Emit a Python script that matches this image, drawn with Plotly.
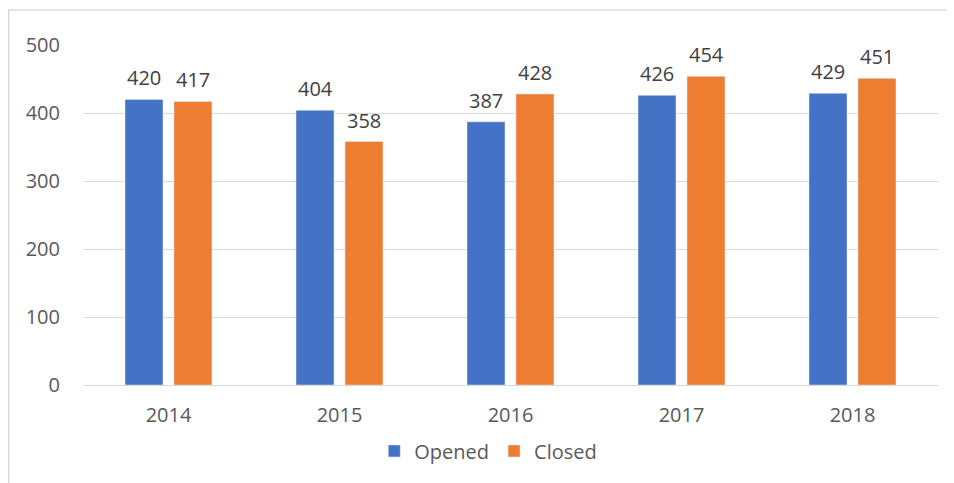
import plotly.graph_objects as go

years = ["2014", "2015", "2016", "2017", "2018"]
opened = [420, 404, 387, 426, 429]
closed = [417, 358, 428, 454, 451]

blue = "#4472C4"
orange = "#ED7D31"
font = "Open Sans"

fig = go.Figure()
fig.add_trace(go.Bar(x=years, y=opened, name="Opened", marker_color=blue))
fig.add_trace(go.Bar(x=years, y=closed, name="Closed", marker_color=orange))

# data labels above each bar (x given as category index)
for vals, shift in [(opened, -24.5), (closed, 24.5)]:
    for i, v in enumerate(vals):
        fig.add_annotation(x=i, y=v, text=str(v), showarrow=False,
                           xshift=shift, yshift=6, yanchor="bottom",
                           font=dict(family=font, size=20, color="#404040"))

# chart border (only top/left visible in the frame)
fig.add_shape(type="rect", xref="paper", yref="paper",
              x0=-0.087, x1=1.03, y0=-0.35, y1=1.103,
              line=dict(color="#D9D9D9", width=1.5), layer="below")

# page body adds 8px offset, so the figure is 8px smaller
fig.update_layout(
    width=946, height=475,
    margin=dict(l=75, r=16, t=37, b=98),
    paper_bgcolor="white", plot_bgcolor="white",
    barmode="group", bargap=0.427, bargroupgap=0.224,
    font=dict(family=font, size=20, color="#595959"),
    showlegend=True,
    legend=dict(orientation="h", x=0.474, xanchor="center", y=-0.194, yanchor="middle",
                font=dict(size=20, color="#595959"), itemwidth=30, traceorder="normal"),
)
fig.update_yaxes(range=[0, 500], dtick=100, showgrid=True, gridcolor="#D9D9D9", gridwidth=1,
                 zeroline=True, zerolinecolor="#D9D9D9", zerolinewidth=1,
                 ticklabelstandoff=22, tickfont=dict(size=20, color="#595959"))
fig.update_xaxes(type="category", autotypenumbers="strict", range=[-0.5, len(years) - 0.5],
                 showgrid=False, showline=False, ticklabelstandoff=16,
                 tickfont=dict(size=20, color="#595959"))

fig.write_html("out.html")
